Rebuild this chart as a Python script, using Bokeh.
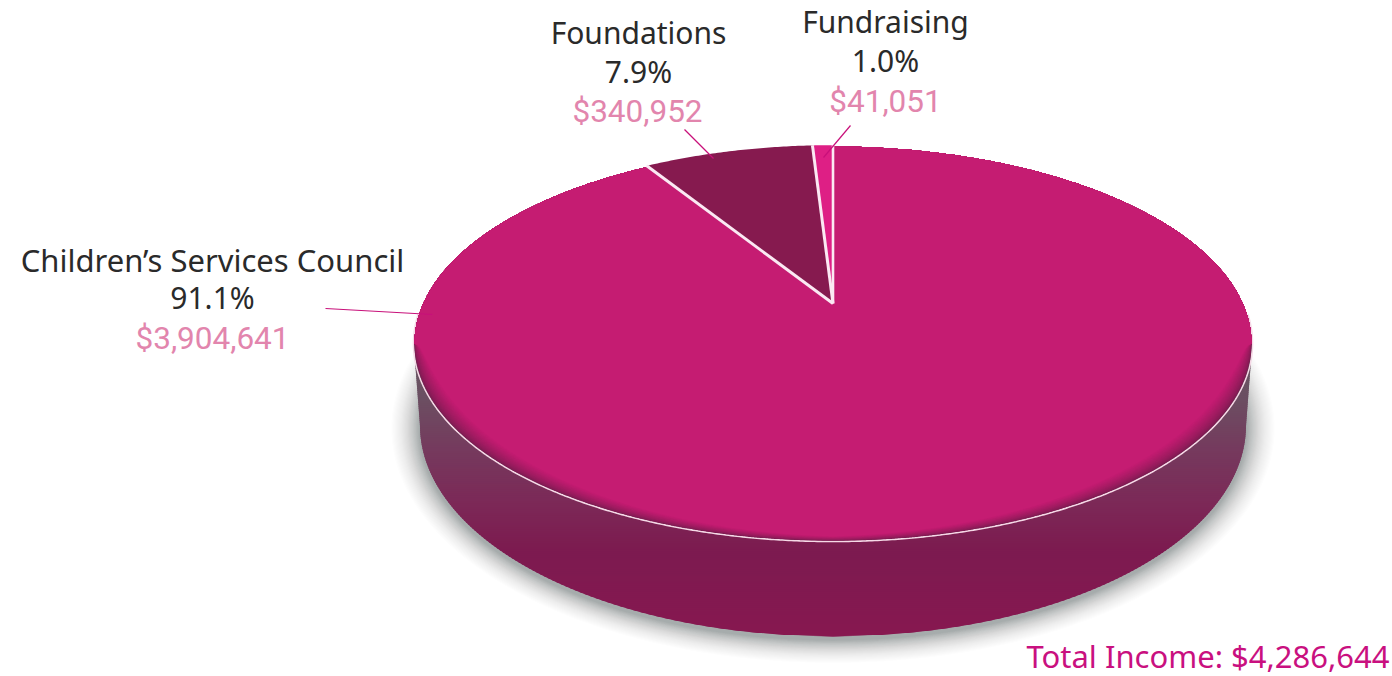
import numpy as np
from bokeh.plotting import figure
from bokeh.embed import file_html
from bokeh.resources import INLINE
from bokeh.core.properties import value

# ---- data ----
categories = ["Children\u2019s Services Council", "Foundations", "Fundraising"]
percent_labels = ["91.1%", "7.9%", "1.0%"]
amounts = [3904641, 340952, 41051]
amount_labels = ["$3,904,641", "$340,952", "$41,051"]
total_label = "Total Income: $4,286,644"

# ---- layout (page pixels) ----
W, H = 1392, 676
APEX_X, APEX_Y = 832.5, 303.0
FACE_CY, FACE_RX, FACE_RY = 343.0, 419.5, 198.0
BASE_CY, BASE_RX, BASE_RY = 425.0, 413.0, 211.0
PERSP = 0.202
PERSP_A = 410.8
PERSP_B = 190.3

DARK = "#861a4f"
BRIGHT = "#de1f85"
SEP = "#fbe9f3"
LEADER = "#c8107a"
INK = "#2a2a2a"
AMOUNT = "#e285ad"
TOTAL = "#c9107f"
LABEL_FONT = "Noto Sans"
AMOUNT_FONT = "Roboto"

p = figure(width=W, height=H, x_range=(0, W), y_range=(H, 0),
           x_axis_location=None, y_axis_location=None, toolbar_location=None,
           output_backend="svg", min_border=0, outline_line_color=None,
           background_fill_color="white", border_fill_color="white")
p.grid.visible = False


def rim(theta):
    """Point on the tilted disc's edge; theta runs clockwise from the top."""
    u, v = np.sin(theta), np.cos(theta)
    w = 1 + PERSP * v
    return APEX_X + PERSP_A * u / w, APEX_Y - PERSP_B * v / w


def wall_half(y):
    y = np.asarray(y, dtype=float)
    low = BASE_RX * np.sqrt(np.clip(1 - ((y - BASE_CY) / BASE_RY) ** 2, 0, 1))
    high = BASE_RX + (BASE_CY - y) / (BASE_CY - 360) * 5
    return np.where(y >= BASE_CY, low, high)


# soft shadow under the disc
t = np.linspace(0, 2 * np.pi, 361)
sx, sy = [], []
n_shadow = 26
for k in range(n_shadow, 0, -1):
    sx.append(APEX_X + (BASE_RX + 1.1 * k) * np.sin(t))
    sy.append(BASE_CY + 3 + (BASE_RY + 0.9 * k) * np.cos(t))
p.patches(sx, sy, fill_color="#4d5f5c",
          fill_alpha=[0.012 + 0.05 * (1 - k / n_shadow) ** 3 for k in range(n_shadow, 0, -1)], line_color=None)

# wall with its vertical gradient: overlapping strips painted from the top down
edges = np.arange(343, 638, 2.0)
edges[-1] = BASE_CY + BASE_RY
stop_y = [360, 400, 450, 500, 550, 640]
stop_r = [104, 108, 118, 124, 125, 136]
stop_g = [88, 78, 58, 42, 27, 24]
stop_b = [100, 98, 94, 88, 80, 80]
wx, wy, wc = [], [], []
for y0, y1 in zip(edges[:-1], edges[1:]):
    y1b = min(y1 + 1.5, BASE_CY + BASE_RY)
    h0, h1 = wall_half(y0), wall_half(y1b)
    wx.append([APEX_X - h0, APEX_X + h0, APEX_X + h1, APEX_X - h1])
    wy.append([y0, y0, y1b, y1b])
    m = (y0 + y1) / 2
    wc.append("#%02x%02x%02x" % (int(np.interp(m, stop_y, stop_r)), int(np.interp(m, stop_y, stop_g)), int(np.interp(m, stop_y, stop_b))))
p.patches(wx, wy, fill_color=wc, line_color=None)

# light rim where the face meets the wall
rt = np.linspace(np.radians(-98.5), np.radians(98.5), 500)
p.line(APEX_X + FACE_RX * np.sin(rt), FACE_CY + FACE_RY * np.cos(rt), line_color="#f6d9e7", line_width=1.6)

# face: dark base, lighter layers inset along the lower rim
t = np.linspace(-np.pi, np.pi, 721)
n_layers = 24
fx, fy, fc = [], [], []
dark_rgb, main_rgb = np.array([125, 28, 82]), np.array([197, 28, 114])
for i in range(n_layers + 1):
    f = i / n_layers
    ease = f ** 0.7
    a = np.clip(np.cos(t), 0, 1) ** 0.5 * (0.3 + 0.7 * np.abs(np.sin(t)))
    fx.append(APEX_X + (FACE_RX - 1 - 36 * f * a) * np.sin(t))
    fy.append(FACE_CY + (FACE_RY - 1 - 14 * f * a) * np.cos(t))
    c = dark_rgb + (main_rgb - dark_rgb) * ease
    fc.append("#%02x%02x%02x" % tuple(int(v) for v in c))
p.patches(fx, fy, fill_color=fc, line_color=None)

# the two small slices, from the values, starting at the top going counter-clockwise
total = sum(amounts)
sweep = [2 * np.pi * v / total for v in amounts]
a_fund = -sweep[2]
a_found = a_fund - sweep[1]
for a0, a1, col in [(a_found, a_fund, DARK), (a_fund, 0.0, BRIGHT)]:
    tt = np.linspace(a0, a1, 60)
    rx, ry = rim(tt)
    p.patch(np.r_[APEX_X, rx], np.r_[APEX_Y, ry], fill_color=col, line_color=None)

# separators
for a, lw in [(a_found, 3.0), (a_fund, 3.0), (0.0, 2.6)]:
    ex, ey = rim(np.array([a]))
    p.line([APEX_X, ex[0]], [APEX_Y, ey[0]], line_color=SEP, line_width=lw)

# leaders
for lx, ly in [([325, 432], [308, 314]), ([684, 713], [129, 158]), ([850, 823], [125, 157])]:
    p.line(lx, ly, line_color=LEADER, line_width=1.2)


def label(x, y, s, color, font, size):
    p.text([x], [y], text=[s], text_color=color, text_font=value(font), text_font_size=size,
           text_align="center", text_baseline="alphabetic")


label_x = [212, 638, 885]
amount_x = [212, 637, 885]
base_y = [(259, 297, 338), (32, 71, 111), (21, 60, 101)]
name_size = ["31px", "30px", "30px"]
for i in range(3):
    label(label_x[i], base_y[i][0], categories[i], INK, LABEL_FONT, name_size[i])
    label(label_x[i], base_y[i][1], percent_labels[i], INK, LABEL_FONT, "30px")
    label(amount_x[i], base_y[i][2], amount_labels[i], AMOUNT, AMOUNT_FONT, "31.5px")
p.text([1389], [655], text=[total_label], text_color=TOTAL, text_font=value(LABEL_FONT),
       text_font_size="31px", text_align="right", text_baseline="alphabetic")

open("out.html", "w").write(file_html(p, INLINE))
